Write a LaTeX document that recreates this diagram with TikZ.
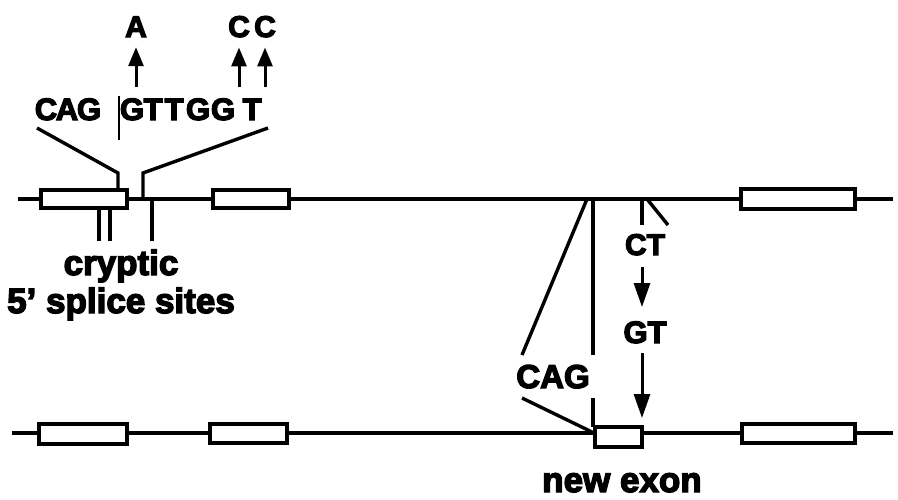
\documentclass[tikz,border=0pt]{standalone}
\usepackage{fontspec}
\setmainfont{Liberation Sans}[BoldFeatures={FakeBold=4}]
\usetikzlibrary{arrows.meta}
\begin{document}
\begin{tikzpicture}[x=1pt,y=-1pt,
  dna/.style={line width=3.8pt},
  exon/.style={draw,line width=3.8pt,fill=white,inner sep=0pt,minimum height=18pt},
  conn/.style={line width=3.4pt},
  thinbar/.style={line width=1.5pt},
  lbl/.style={font=\bfseries\fontsize{35}{35}\selectfont,inner sep=0pt,anchor=base},
  seq/.style={font=\bfseries\fontsize{31}{31}\selectfont,inner sep=0pt,anchor=base},
  mut/.style={font=\bfseries\fontsize{30}{30}\selectfont,inner sep=0pt,anchor=base},
  uarr/.style={line width=3pt,-{Triangle[length=19pt,width=15pt]}},
  darr/.style={line width=3pt,-{Triangle[length=24pt,width=16pt]}}]
\useasboundingbox (0,0) rectangle (898,499);

% ---- top gene ----
\coordinate (tl) at (18,199);
\coordinate (tr) at (893,199);
\draw[dna] (tl) -- (tr);
\node[exon,minimum width=86pt] (t1) at (84,199) {};
\node[exon,minimum width=76pt] (t2) at (251,199) {};
\node[exon,minimum width=114pt,minimum height=20pt] (t3) at (798,199) {};

% ---- bottom gene ----
\coordinate (bl) at (12,433);
\coordinate (br) at (893,433);
\draw[dna] (bl) -- (br);
\node[exon,minimum width=88pt,minimum height=20pt] (b1) at (83,434) {};
\node[exon,minimum width=77pt,minimum height=19pt] (b2) at (248.5,433.5) {};
\node[exon,minimum width=113pt,minimum height=19pt] (b3) at (798.5,433.5) {};
\node[exon,minimum width=47pt,minimum height=20pt] (nx) at (618.5,437) {};

% ---- sequence ----
\foreach \x/\l/\n in {46/C/s1,67/A/s2,89/G/s3,132/G/s4,153/T/s5,174/T/s6,198/G/s7,223/G/s8,252/T/s9}
  \node[seq] (\n) at (\x,120) {\l};
\coordinate (bartop) at (119,96);
\coordinate (barbot) at (119,140);
\draw[thinbar] (bartop) -- (barbot);

% mutations
\node[mut] (mA) at (136,37) {A};
\node[mut] (mC1) at (239,37) {C};
\node[mut] (mC2) at (265,37) {C};
\foreach \m in {mA,mC1,mC2}
  \draw[uarr] ([yshift=-50pt]\m.south) -- ([yshift=-10pt]\m.south);

% zoom lines from sequence to gene
\coordinate (zl1) at (37,128);
\coordinate (zl2) at (118,173);
\coordinate (zl3) at (118,190);
\coordinate (zr1) at (268,128);
\coordinate (zr2) at (143,173);
\coordinate (zr3) at (143,199);
\draw[conn] (zl1) -- (zl2) -- (zl3);
\draw[conn] (zr1) -- (zr2) -- (zr3);

% cryptic sites
\coordinate (c1a) at (99,208);  \coordinate (c1b) at (99,241);
\coordinate (c2a) at (110,208); \coordinate (c2b) at (110,241);
\coordinate (c3a) at (152,199); \coordinate (c3b) at (152,241);
\draw[conn] (c1a) -- (c1b);
\draw[conn] (c2a) -- (c2b);
\draw[conn] (c3a) -- (c3b);
\node[lbl] (cry) at (121,275) {cryptic};
\node[lbl] (spl) at (121,313) {5’ splice sites};

% ---- new exon region ----
\coordinate (ua1) at (587,199); \coordinate (ua2) at (522,355);
\coordinate (ub1) at (593,199); \coordinate (ub2) at (593,355);
\draw[conn] (ua1) -- (ua2);
\draw[conn] (ub1) -- (ub2);
\coordinate (ct1) at (642,199); \coordinate (ct2) at (642,225);
\coordinate (ct3) at (647,199); \coordinate (ct4) at (668,225);
\draw[conn] (ct1) -- (ct2);
\draw[conn] (ct3) -- (ct4);

\node[mut] (CT) at (645,255) {CT};
\node[seq] (GT) at (645,343) {GT};
\node[font=\bfseries\fontsize{33}{33}\selectfont,inner sep=0pt,anchor=base] (CAG) at (553,388) {CAG};

\coordinate (a1s) at (642,267); \coordinate (a1e) at (642,307);
\coordinate (a2s) at (642,353); \coordinate (a2e) at (642,418);
\draw[darr] (a1s) -- (a1e);
\draw[darr] (a2s) -- (a2e);

\coordinate (la1) at (522,398); \coordinate (la2) at (592,432);
\coordinate (lb1) at (593,398); \coordinate (lb2) at (593,427);
\draw[conn] (la1) -- (la2);
\draw[conn] (lb1) -- (lb2);

\node[lbl] (newex) at (622,492) {new exon};
\end{tikzpicture}
\end{document}
